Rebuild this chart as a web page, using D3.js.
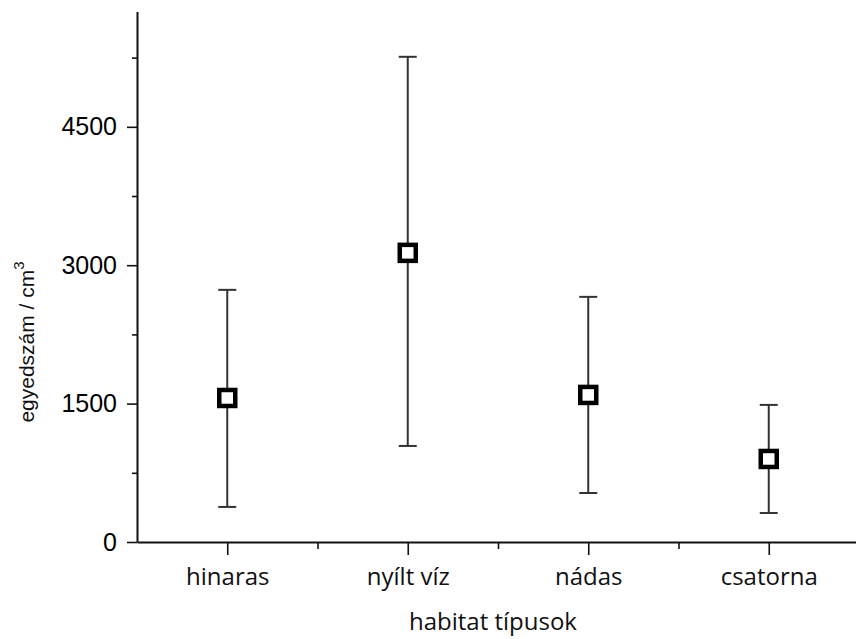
<!DOCTYPE html>
<html>
<head>
<meta charset="utf-8">
<script src="https://cdn.jsdelivr.net/npm/d3@7"></script>
<style>
  html, body { margin: 0; padding: 0; background: #fff; }
  svg { display: block; }
</style>
</head>
<body>
<svg id="chart" width="856" height="639"></svg>
<script>
// ---- data ----
const categories = ["hinaras", "nyílt víz", "nádas", "csatorna"];
const means      = [1561, 3134, 1594, 900];
const upper      = [2733, 5259, 2657, 1486];
const lower      = [380, 1041, 531, 314];
const yMajorTicks = [0, 1500, 3000, 4500];
const yMinorTicks = [750, 2250, 3750, 5250];
const xLabel = "habitat típusok";
const yLabel = "egyedszám / cm";

const svg = d3.select("#chart");

const x = d3.scaleLinear().domain([0.5, 4.5]).range([137, 859]);
const y = d3.scaleLinear().domain([0, 5750]).range([542, 11.5]);

const axisColor = "#111";

// y axis minor
svg.append("g").attr("transform", `translate(${x(0.5)},0)`)
  .call(d3.axisLeft(y).tickValues(yMinorTicks).tickSize(5).tickFormat(""))
  .call(g => g.select(".domain").remove())
  .call(g => g.selectAll("line").attr("stroke", axisColor).attr("stroke-width", 1.6));

// y axis major
svg.append("g").attr("transform", `translate(${x(0.5)},0)`)
  .call(d3.axisLeft(y).tickValues(yMajorTicks).tickSize(10).tickSizeOuter(0).tickPadding(10).tickFormat(d3.format("d")))
  .call(g => g.select(".domain").attr("stroke", axisColor).attr("stroke-width", 2))
  .call(g => g.selectAll("line").attr("stroke", axisColor).attr("stroke-width", 1.6))
  .call(g => g.selectAll("text").attr("fill", "#000")
      .style("font-family", "Liberation Sans, Arial, sans-serif").style("font-size", "25px"));

// x axis minor
svg.append("g").attr("transform", `translate(0,${y(0)})`)
  .call(d3.axisBottom(x).tickValues([1.5, 2.5, 3.5]).tickSize(7).tickFormat(""))
  .call(g => g.select(".domain").remove())
  .call(g => g.selectAll("line").attr("stroke", axisColor).attr("stroke-width", 1.6));

// x axis major
svg.append("g").attr("transform", `translate(0,${y(0)})`)
  .call(d3.axisBottom(x).tickValues([1, 2, 3, 4]).tickSize(13).tickSizeOuter(0).tickPadding(13)
        .tickFormat((d) => categories[d - 1]))
  .call(g => g.select(".domain").attr("stroke", axisColor).attr("stroke-width", 2))
  .call(g => g.selectAll("line").attr("stroke", axisColor).attr("stroke-width", 1.6))
  .call(g => g.selectAll("text").attr("fill", "#111")
      .style("font-family", "Open Sans, sans-serif").style("font-size", "24px"));

// axis titles
svg.append("text")
  .attr("x", 493).attr("y", 630)
  .attr("text-anchor", "middle")
  .style("font-family", "Open Sans, sans-serif").style("font-size", "24px")
  .attr("fill", "#111")
  .text(xLabel);

const yt = svg.append("text")
  .attr("transform", "translate(34,342) rotate(-90)")
  .attr("text-anchor", "middle")
  .style("font-family", "Liberation Sans, Arial, sans-serif").style("font-size", "21px")
  .attr("fill", "#111");
yt.append("tspan").text(yLabel);
yt.append("tspan").attr("dy", -10).style("font-size", "15px").text("3");

// error bars
const data = categories.map((c, i) => ({ i: i + 1, m: means[i], hi: upper[i], lo: lower[i] }));
const eb = svg.append("g").attr("stroke", "#333").attr("stroke-width", 2);
eb.selectAll("line.v").data(data).join("line")
  .attr("x1", d => x(d.i)).attr("x2", d => x(d.i))
  .attr("y1", d => y(d.hi)).attr("y2", d => y(d.lo));
eb.selectAll("line.t").data(data).join("line")
  .attr("x1", d => x(d.i) - 9).attr("x2", d => x(d.i) + 9)
  .attr("y1", d => y(d.hi)).attr("y2", d => y(d.hi));
eb.selectAll("line.b").data(data).join("line")
  .attr("x1", d => x(d.i) - 9).attr("x2", d => x(d.i) + 9)
  .attr("y1", d => y(d.lo)).attr("y2", d => y(d.lo));

// markers
const s = 16;
svg.append("g").selectAll("rect").data(data).join("rect")
  .attr("x", d => x(d.i) - s / 2).attr("y", d => y(d.m) - s / 2)
  .attr("width", s).attr("height", s)
  .attr("fill", "#fff").attr("stroke", "#000").attr("stroke-width", 4.5);
</script>
</body>
</html>
